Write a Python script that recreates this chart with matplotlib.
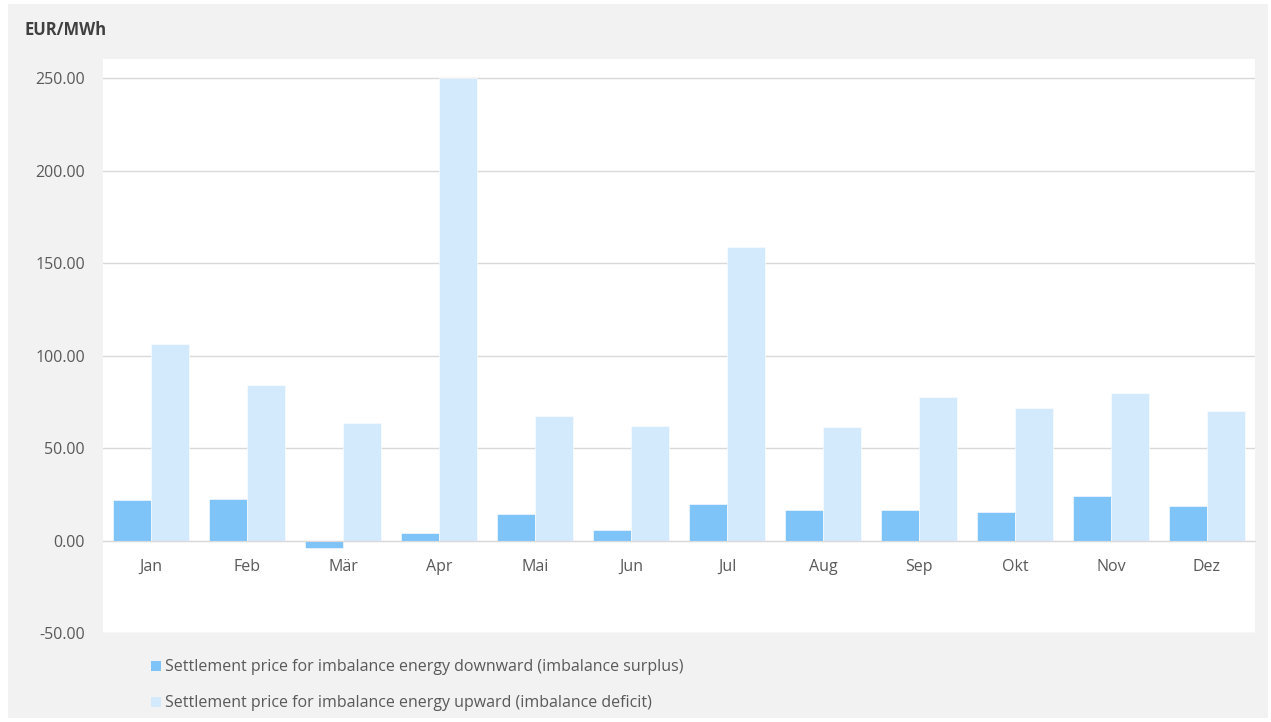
import numpy as np
import matplotlib
matplotlib.use("Agg")
import matplotlib.pyplot as plt
from matplotlib.patches import Rectangle, Patch

# monthly settlement prices, EUR/MWh
months = ["Jan", "Feb", "Mär", "Apr", "Mai", "Jun",
          "Jul", "Aug", "Sep", "Okt", "Nov", "Dez"]
price_down = [21.8, 22.3, -4.1, 3.9, 14.6, 5.9, 19.8, 16.6, 16.6, 15.5, 24.1, 18.7]
price_up = [106.4, 84.2, 63.7, 250.0, 67.5, 62.1, 158.7, 61.6, 77.8, 71.8, 79.9, 70.2]
y_ticks = [-50, 0, 50, 100, 150, 200, 250]

label_down = "Settlement price for imbalance energy downward (imbalance surplus)"
label_up = "Settlement price for imbalance energy upward (imbalance deficit)"

col_down = "#7FC4F8"
col_up = "#D3E9FC"
txt_col = "#595959"
grid_col = "#D9D9D9"

plt.rcParams['font.family'] = ['Open Sans', 'DejaVu Sans']

fig = plt.figure(figsize=(12.71, 7.22), dpi=100, facecolor="white")
# grey chart area behind everything
bg = Rectangle((8 / 1271, 4 / 722), 1260 / 1271, 714 / 722,
               transform=fig.transFigure, facecolor="#F2F2F2",
               edgecolor="none", zorder=-10)
fig.add_artist(bg)

ax = fig.add_axes([103 / 1271, 1 - 633 / 722, 1152 / 1271, 574 / 722])
ax.set_facecolor("white")
ax.set_zorder(1)

x = np.arange(len(months))
w = 0.4
ax.bar(x - w / 2, price_down, w, color=col_down, edgecolor="white", linewidth=0.4, zorder=3)
ax.bar(x + w / 2, price_up, w, color=col_up, edgecolor="white", linewidth=0.4, zorder=3)

ax.set_xlim(-0.5, len(months) - 0.5)
ax.set_ylim(-50, 260.3)
ax.set_yticks(y_ticks)
ax.set_yticklabels(["%.2f" % v for v in y_ticks])
ax.set_xticks(x)
ax.set_xticklabels(months)

ax.yaxis.grid(True, color=grid_col, linewidth=1)
ax.set_axisbelow(True)

for s in ["top", "right", "left"]:
    ax.spines[s].set_visible(False)
ax.spines["bottom"].set_position(("data", 0))
ax.spines["bottom"].set_color(grid_col)
ax.spines["bottom"].set_zorder(4)

ax.tick_params(axis="y", length=0, pad=13, labelsize=11.5, labelcolor=txt_col)
ax.tick_params(axis="x", length=0, pad=13.5, labelsize=11.5, labelcolor=txt_col)

fig.text(25 / 1271, 1 - 30 / 722, "EUR/MWh", fontsize=12, fontweight="bold",
         color="#404040", va="center", ha="left")

handles = [Patch(facecolor=col_down, edgecolor="none"),
           Patch(facecolor=col_up, edgecolor="none")]
fig.legend(handles, [label_down, label_up], loc="upper left",
           bbox_to_anchor=(137 / 1271, 1 - 645 / 722), frameon=False,
           fontsize=11.5, labelcolor=txt_col, handlelength=0.6, handleheight=0.6,
           handletextpad=0.25, labelspacing=1.25)

fig.savefig("out.png", dpi=100, facecolor=fig.get_facecolor())
